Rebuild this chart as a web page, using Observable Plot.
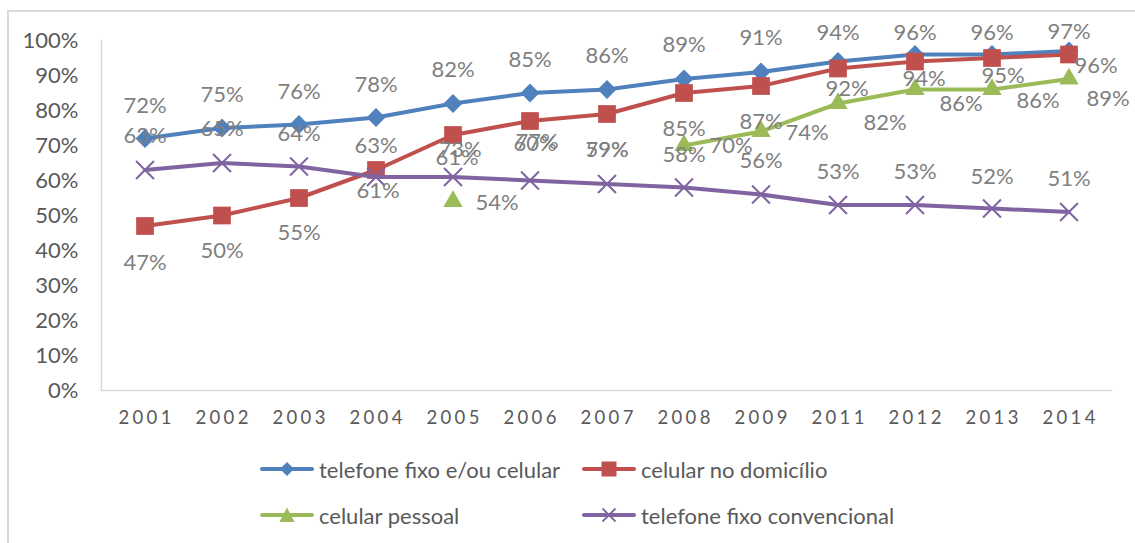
<!DOCTYPE html>
<html><head><meta charset="utf-8">
<script src="https://cdn.jsdelivr.net/npm/d3@7"></script>
<script src="https://cdn.jsdelivr.net/npm/@observablehq/plot@0.6"></script>
<style>
html,body{margin:0;padding:0;background:#fff;width:1135px;height:543px;overflow:hidden;position:relative;}
#frame{position:absolute;left:7px;top:10px;width:1300px;height:700px;border-top:2px solid #d9d9d9;border-left:2px solid #d9d9d9;}
#chart{position:absolute;left:0;top:0;}
#chart g[aria-label="x-axis tick label"]{letter-spacing:3.3px;}
#legend{position:absolute;left:0;top:445px;width:1135px;height:98px;font-family:Lato,"Open Sans",sans-serif;font-size:22px;color:#595959;}
.item{position:absolute;display:flex;align-items:center;height:28px;white-space:nowrap;}
.item svg{margin-right:5px;display:block;}
</style></head><body>
<div id="frame"></div>
<div id="chart"></div>
<div id="legend"></div>
<script>
// ---- data ----
const years = ["2001","2002","2003","2004","2005","2006","2007","2008","2009","2011","2012","2013","2014"];
const seriesNames = ["telefone fixo e/ou celular","celular no domicílio","celular pessoal","telefone fixo convencional"];
const fixoOuCelular    = [72,75,76,78,82,85,86,89,91,94,96,96,97];
const celularDomicilio = [47,50,55,63,73,77,79,85,87,92,94,95,96];
const celularPessoal   = [null,null,null,null,54,null,null,70,74,82,86,86,89];
const fixoConvencional = [63,65,64,61,61,60,59,58,56,53,53,52,51];
const yTicks = [0,10,20,30,40,50,60,70,80,90,100];

// ---- styles ----
const colors = ["#4f81bd","#c0504d","#9bbb59","#8064a2"];
// label offsets (px) relative to each point, [dx, dy]
const offFixoOuCelular = [[0,-33],[0,-33],[0,-33],[0,-33],[0,-34],[0,-33],[0,-34],[0,-34],[0,-34],[0,-29],[0,-22],[0,-22],[0,-19]];
const offCelularDom    = [[0,37],[0,35],[0,35],[0,-24],[7,15],[7,21],[0,36],[0,36],[0,36],[9,20],[9,17],[11,18],[27,11]];
const offCelularPes    = [[0,0],[0,0],[0,0],[0,0],[44,1],[0,0],[0,0],[47,0],[46,1],[47,19],[46,14],[46,11],[39,20]];
const offFixoConv      = [[0,-34],[0,-34],[0,-33],[2,14],[4,-19],[5,-37],[0,-34],[0,-33],[0,-34],[0,-33],[0,-33],[0,-32],[0,-33]];

const seriesValues = [fixoOuCelular, celularDomicilio, celularPessoal, fixoConvencional];
const seriesOffsets = [offFixoOuCelular, offCelularDom, offCelularPes, offFixoConv];
const symbols = [
  {symbol:"diamond2", r:8.5, fill:colors[0]},
  {symbol:"square", r:10, fill:colors[1]},
  {symbol:"triangle", r:7.2, fill:colors[2]},
  {symbol:"times", r:8.2, stroke:colors[3], strokeWidth:2, fill:"none"}
];

const table = [];
seriesNames.forEach((name, si) => {
  seriesValues[si].forEach((v, i) => {
    table.push({series:name, si, year:years[i], value: v == null ? NaN : v,
      dx: seriesOffsets[si][i][0], dy: seriesOffsets[si][i][1]});
  });
});
const pts = table.filter(d => !isNaN(d.value));

const seriesMarks = [];
seriesNames.forEach((name, si) => {
  const rows = table.filter(d => d.si === si);
  seriesMarks.push(Plot.line(rows, {x:"year", y:"value", stroke:colors[si], strokeWidth:4, strokeLinejoin:"round", strokeLinecap:"round"}));
  const s = symbols[si];
  seriesMarks.push(Plot.dot(rows.filter(d => !isNaN(d.value)), {x:"year", y:"value", ...s}));
});

const groups = d3.groups(pts, d => d.dx + "," + d.dy);
const labelMarks = groups.map(([k, arr]) => Plot.text(arr, {
  x:"year", y:"value", text: d => d.value + "%", dx: arr[0].dx, dy: arr[0].dy,
  fill:"#7f7f7f", fontSize:22
}));

const chart = Plot.plot({
  width:1135, height:445,
  marginLeft:101, marginRight:24, marginTop:40, marginBottom:55,
  x:{type:"band", domain:years, padding:0},
  y:{domain:[0,100]},
  style:{fontFamily:"Lato, 'Open Sans', sans-serif", background:"transparent", overflow:"visible"},
  marks:[
    Plot.frame({anchor:"left", stroke:"#d9d9d9", strokeWidth:1.5}),
    Plot.frame({anchor:"bottom", stroke:"#d9d9d9", strokeWidth:1.5}),
    Plot.axisY({ticks:yTicks, tickFormat:d => d + "%", tickSize:0, tickPadding:23, fontSize:22, fill:"#595959", label:null}),
    Plot.axisX({tickSize:0, tickPadding:20, fontSize:18.5, fill:"#595959", dx:1.6, label:null}),
    ...seriesMarks,
    ...labelMarks
  ]
});
document.getElementById("chart").appendChild(chart);

// ---- legend ----
function swatch(i){
  const c = colors[i];
  let m = "";
  if (i === 0) m = `<polygon points="27,3 34,10 27,17 20,10" fill="${c}"/>`;
  if (i === 1) m = `<rect x="19.5" y="2.5" width="15" height="15" fill="${c}"/>`;
  if (i === 2) m = `<polygon points="27,2.5 34.5,17 19.5,17" fill="${c}"/>`;
  if (i === 3) m = `<path d="M20.5,3.5L33.5,16.5M33.5,3.5L20.5,16.5" stroke="${c}" stroke-width="1.8"/>`;
  return `<svg width="54" height="20"><line x1="2" y1="10" x2="52" y2="10" stroke="${c}" stroke-width="4" stroke-linecap="round"/>${m}</svg>`;
}
const legendPos = [[260,10],[582,10],[260,56],[582,56]];
const leg = document.getElementById("legend");
seriesNames.forEach((name, i) => {
  const d = document.createElement("div");
  d.className = "item";
  d.style.left = legendPos[i][0] + "px";
  d.style.top = legendPos[i][1] + "px";
  d.innerHTML = swatch(i) + `<span>${name}</span>`;
  leg.appendChild(d);
});
</script>
</body></html>
